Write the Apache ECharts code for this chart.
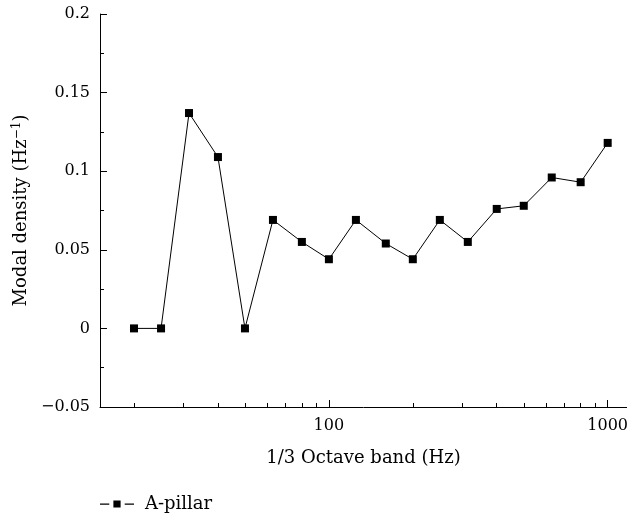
<!DOCTYPE html>
<html>
<head>
<meta charset="utf-8">
<script src="https://cdn.jsdelivr.net/npm/echarts@6/dist/echarts.min.js"></script>
<style>
  html, body { margin: 0; padding: 0; background: #fff; }
  #chart { width: 627px; height: 518px; }
</style>
</head>
<body>
<div id="chart"></div>
<script>
  // 1/3 octave band centre frequencies (Hz)
  let bands = [20, 25, 31.5, 40, 50, 63, 80, 100, 125, 160, 200, 250, 315, 400, 500, 630, 800, 1000]
  // modal density, A-pillar (Hz^-1)
  let density = [0, 0, 0.137, 0.109, 0, 0.069, 0.055, 0.044, 0.069, 0.054, 0.044, 0.069, 0.055, 0.076, 0.078, 0.096, 0.093, 0.118]
  let xMajorTicks = [100, 1000]
  let xMinorTicks = [20, 30, 40, 50, 60, 70, 80, 90, 200, 300, 400, 500, 600, 700, 800, 900]

  let font = 'DejaVu Serif'
  let fs = 16      // tick labels
  let fsName = 18  // axis names, legend
  let ink = '#000'
  let xMin = 15.1
  let xMax = 1173

  let chart = echarts.init(document.getElementById('chart'))
  let points = bands.map((b, i) => [b, density[i]])

  // extra x axes only carry tick marks of one length each
  let tickAxis = (values, len) => ({
    type: 'log',
    min: xMin,
    max: xMax,
    logBase: 10,
    position: 'bottom',
    axisLine: { show: false, onZero: false },
    axisTick: { show: true, inside: true, length: len, customValues: values, lineStyle: { color: ink } },
    axisLabel: { show: false },
    splitLine: { show: false }
  })

  let option = {
    animation: false,
    backgroundColor: '#fff',
    textStyle: { fontFamily: font, color: ink },
    grid: { left: 100, top: 14, right: 0, bottom: 111, containLabel: false, outerBoundsMode: 'none' },
    legend: {
      left: 100,
      top: 495,
      padding: 0,
      // dash - square - dash, like the printed key
      icon: 'path://M0,4h9v1.2h-9z M13,1h7v7h-7z M24,4h9v1.2h-9z',
      itemWidth: 34,
      itemHeight: 8,
      textStyle: { fontFamily: font, fontSize: fsName, color: ink, padding: [0, 0, 0, 6] },
      data: ['A-pillar']
    },
    xAxis: [{
      type: 'log',
      min: xMin,
      max: xMax,
      logBase: 10,
      name: '1/3 Octave band (Hz)',
      nameLocation: 'middle',
      nameGap: 42,
      nameTextStyle: { fontFamily: font, fontSize: fsName, color: ink },
      axisLine: { show: true, onZero: false, lineStyle: { color: ink, width: 1 } },
      axisTick: { show: false },
      axisLabel: {
        show: true, customValues: xMajorTicks, margin: 11,
        fontFamily: font, fontSize: fs, color: ink,
        formatter: v => String(Math.round(v))
      },
      splitLine: { show: false },
      minorTick: { show: false }
    },
    tickAxis(xMajorTicks, 7),
    tickAxis(xMinorTicks, 4)
    ],
    yAxis: {
      type: 'value',
      min: -0.05,
      max: 0.2,
      interval: 0.05,
      name: 'Modal density (Hz{sup|−1})',
      nameLocation: 'middle',
      nameGap: 65,
      nameRotate: 90,
      nameTextStyle: {
        fontFamily: font, fontSize: fsName, color: ink,
        rich: { sup: { fontFamily: font, fontSize: 12, color: ink, verticalAlign: 'top', padding: [0, 0, 9, 0] } }
      },
      axisLine: { show: true, onZero: false, lineStyle: { color: ink, width: 1 } },
      axisTick: { show: true, inside: true, length: 7, lineStyle: { color: ink } },
      minorTick: { show: true, splitNumber: 2, length: 4, lineStyle: { color: ink } },
      axisLabel: {
        margin: 10,
        fontFamily: font, fontSize: fs, color: ink,
        formatter: v => v === 0 ? '0' : String(+v.toFixed(2)).replace('-', '\u2212')
      },
      splitLine: { show: false }
    },
    series: [{
      name: 'A-pillar',
      type: 'line',
      data: points,
      symbol: 'rect',
      symbolSize: 8,
      itemStyle: { color: ink },
      lineStyle: { color: ink, width: 1 }
    }]
  }
  chart.setOption(option)
</script>
</body>
</html>
